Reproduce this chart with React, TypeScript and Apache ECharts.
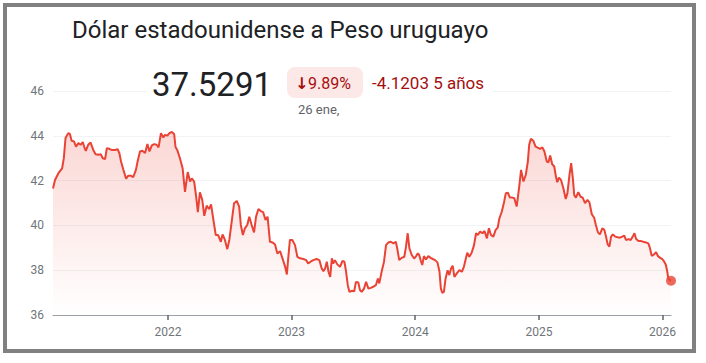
import React, { useEffect, useRef } from "react";
import * as echarts from "echarts";

const title = "Dólar estadounidense a Peso uruguayo";
const currentValue = "37.5291";
const changeArrow = "↓";
const changePct = "9.89%";
const changeAbs = "-4.1203 5 años";
const dateLabel = "26 ene,";

const yearTicks = ["2022-01-01", "2023-01-01", "2024-01-01", "2025-01-01", "2026-01-01"];

const dates = [
  "2021-01-26","2021-02-01","2021-02-11","2021-02-22","2021-02-27","2021-03-04","2021-03-12","2021-03-17","2021-03-22","2021-03-29",
  "2021-04-04","2021-04-11","2021-04-18","2021-04-24","2021-04-28","2021-05-03","2021-05-10","2021-05-17","2021-05-25","2021-06-01",
  "2021-06-09","2021-06-16","2021-06-22","2021-06-29","2021-07-04","2021-07-11","2021-07-18","2021-07-28","2021-08-05","2021-08-10",
  "2021-08-15","2021-08-22","2021-08-30","2021-09-05","2021-09-13","2021-09-20","2021-09-28","2021-10-03","2021-10-10","2021-10-17",
  "2021-10-25","2021-11-01","2021-11-07","2021-11-14","2021-11-21","2021-11-28","2021-12-04","2021-12-11","2021-12-18","2021-12-23",
  "2021-12-30","2022-01-05","2022-01-12","2022-01-19","2022-01-23","2022-01-28","2022-02-05","2022-02-13","2022-02-20","2022-02-28",
  "2022-03-07","2022-03-12","2022-03-19","2022-03-25","2022-03-30","2022-04-05","2022-04-12","2022-04-18","2022-04-25","2022-05-02",
  "2022-05-08","2022-05-15","2022-05-22","2022-05-29","2022-06-06","2022-06-11","2022-06-18","2022-06-25","2022-07-01","2022-07-08",
  "2022-07-15","2022-07-23","2022-07-30","2022-08-04","2022-08-10","2022-08-16","2022-08-23","2022-08-29","2022-09-05","2022-09-12",
  "2022-09-18","2022-09-25","2022-10-02","2022-10-09","2022-10-16","2022-10-22","2022-10-29","2022-11-06","2022-11-13","2022-11-20",
  "2022-11-28","2022-12-05","2022-12-13","2022-12-18","2022-12-22","2022-12-27","2023-01-03","2023-01-11","2023-01-18","2023-01-26",
  "2023-02-05","2023-02-13","2023-02-19","2023-02-26","2023-03-06","2023-03-16","2023-03-24","2023-03-31","2023-04-05","2023-04-10",
  "2023-04-15","2023-04-20","2023-04-25","2023-04-30","2023-05-04","2023-05-09","2023-05-16","2023-05-24","2023-05-31","2023-06-06",
  "2023-06-11","2023-06-16","2023-06-21","2023-06-28","2023-07-05","2023-07-10","2023-07-17","2023-07-22","2023-07-27","2023-08-03",
  "2023-08-09","2023-08-16","2023-08-23","2023-08-30","2023-09-07","2023-09-13","2023-09-17","2023-09-24","2023-10-01","2023-10-07",
  "2023-10-14","2023-10-21","2023-10-29","2023-11-05","2023-11-09","2023-11-15","2023-11-22","2023-11-30","2023-12-05","2023-12-10",
  "2023-12-15","2023-12-22","2023-12-29","2024-01-04","2024-01-09","2024-01-13","2024-01-18","2024-01-22","2024-01-27","2024-02-02",
  "2024-02-09","2024-02-16","2024-02-22","2024-02-29","2024-03-07","2024-03-13","2024-03-17","2024-03-21","2024-03-26","2024-03-31",
  "2024-04-06","2024-04-11","2024-04-16","2024-04-21","2024-04-26","2024-05-03","2024-05-11","2024-05-18","2024-05-24","2024-05-30",
  "2024-06-03","2024-06-09","2024-06-16","2024-06-23","2024-06-29","2024-07-04","2024-07-11","2024-07-18","2024-07-24","2024-07-31",
  "2024-08-06","2024-08-12","2024-08-19","2024-08-26","2024-09-01","2024-09-06","2024-09-13","2024-09-20","2024-09-25","2024-10-01",
  "2024-10-07","2024-10-14","2024-10-20","2024-10-27","2024-11-03","2024-11-09","2024-11-16","2024-11-23","2024-11-29","2024-12-03",
  "2024-12-08","2024-12-15","2024-12-22","2024-12-31","2025-01-04","2025-01-11","2025-01-17","2025-01-24","2025-01-29","2025-02-03",
  "2025-02-09","2025-02-15","2025-02-20","2025-02-24","2025-03-01","2025-03-07","2025-03-14","2025-03-21","2025-03-26","2025-04-01",
  "2025-04-06","2025-04-11","2025-04-15","2025-04-20","2025-04-27","2025-05-04","2025-05-10","2025-05-17","2025-05-24","2025-05-30",
  "2025-06-06","2025-06-13","2025-06-18","2025-06-24","2025-06-30","2025-07-07","2025-07-13","2025-07-18","2025-07-23","2025-07-28",
  "2025-08-02","2025-08-07","2025-08-14","2025-08-22","2025-08-28","2025-09-04","2025-09-10","2025-09-15","2025-09-22","2025-09-29",
  "2025-10-05","2025-10-10","2025-10-15","2025-10-22","2025-10-30","2025-11-05","2025-11-13","2025-11-20","2025-11-25","2025-11-30",
  "2025-12-07","2025-12-13","2025-12-18","2025-12-25","2025-12-31","2026-01-06","2026-01-11","2026-01-15","2026-01-18","2026-01-23",
  "2026-01-26"
];

const values = [
  41.65,42.03,42.33,42.55,43.0,43.9,44.12,44.08,43.78,43.75,
  43.52,43.67,43.6,43.72,43.52,43.33,43.6,43.7,43.37,43.18,
  43.15,43.18,43.0,42.96,43.45,43.42,43.37,43.37,43.4,43.23,
  42.85,42.48,42.08,42.22,42.22,42.15,42.48,42.85,43.3,43.33,
  43.23,43.63,43.3,43.57,43.63,43.6,43.48,44.12,43.92,44.04,
  44.01,44.12,44.17,44.08,43.5,43.37,43.0,42.55,41.5,42.38,
  41.96,42.1,41.96,41.28,40.59,41.48,41.14,40.43,40.88,40.73,
  40.94,40.24,39.57,39.57,39.27,39.6,39.35,38.94,39.35,40.17,
  40.99,41.09,40.84,40.02,39.57,39.87,40.02,40.39,40.02,39.69,
  40.39,40.73,40.64,40.59,40.24,40.39,39.27,39.24,39.15,38.75,
  38.85,38.53,38.15,37.81,38.53,39.35,39.35,39.12,38.6,38.53,
  38.5,38.45,38.3,38.38,38.45,38.5,38.45,38.08,37.96,38.08,
  38.38,37.93,37.7,38.53,38.3,38.45,38.26,38.15,38.41,38.38,
  37.93,37.33,37.03,37.08,37.06,37.48,37.45,37.11,37.03,37.18,
  37.48,37.18,37.21,37.26,37.33,37.63,37.41,37.93,38.38,39.12,
  39.24,39.27,39.2,39.27,38.98,38.45,38.55,38.6,39.05,39.65,
  38.98,38.68,38.52,38.63,38.75,38.68,38.41,38.23,38.63,38.48,
  38.63,38.55,38.5,38.45,38.35,37.93,37.19,36.99,37.03,37.63,
  38.0,37.78,38.08,38.2,37.7,37.86,38.0,37.93,38.15,38.53,
  38.78,38.6,38.78,39.12,39.65,39.57,39.72,39.65,39.75,39.42,
  39.87,39.57,39.5,39.8,39.9,40.32,40.61,41.06,41.44,41.46,
  41.24,41.24,41.21,40.84,41.66,42.48,41.96,42.26,42.85,43.6,
  43.87,43.78,43.52,43.45,43.42,43.48,43.3,42.85,42.82,43.12,
  42.73,42.63,42.18,41.93,42.13,42.03,41.66,41.18,41.44,42.26,
  42.78,42.1,41.36,41.24,41.48,41.28,41.24,40.99,41.14,41.03,
  40.5,40.34,40.02,39.69,39.6,39.87,39.8,39.5,39.15,39.05,
  39.5,39.6,39.5,39.47,39.45,39.5,39.54,39.35,39.39,39.35,
  39.5,39.65,39.39,39.3,39.3,39.27,39.24,39.2,38.98,38.64,
  38.71,38.8,38.64,38.55,38.5,38.38,38.23,37.93,37.63,37.55,
  37.5291
];

const RED = "#ea4335";
const DARK_RED = "#a50e0e";

const toTime = (s: string) => Date.parse(s + "T00:00:00Z");

export default function App() {
  const ref = useRef<HTMLDivElement>(null);

  useEffect(() => {
    if (!ref.current) return;
    const chart = echarts.init(ref.current, null, { renderer: "svg" });
    const seriesData = dates.map((d, i) => [toTime(d), values[i]]);
    const last = seriesData[seriesData.length - 1];
    const tickTimes = yearTicks.map(toTime);

    chart.setOption({
      animation: false,
      backgroundColor: "transparent",
      grid: { left: 53, right: 35, top: 91, bottom: 48, containLabel: false },
      xAxis: {
        type: "value",
        min: toTime(dates[0]),
        max: toTime(dates[dates.length - 1]),
        axisLine: { show: true, lineStyle: { color: "#9aa0a6", width: 1 } },
        axisTick: {
          show: true,
          customValues: tickTimes,
          length: 5,
          lineStyle: { color: "#5f6368", width: 1.5 },
        },
        axisLabel: {
          customValues: tickTimes,
          formatter: (v: number) => String(new Date(v).getUTCFullYear()),
          color: "#70757a",
          fontSize: 12,
          fontFamily: "Roboto",
          margin: 11,
        },
        splitLine: { show: false },
      },
      yAxis: {
        type: "value",
        min: 36,
        max: 46,
        interval: 2,
        axisLine: { show: false },
        axisTick: { show: false },
        axisLabel: { color: "#70757a", fontSize: 12, fontFamily: "Roboto", margin: 9 },
        splitLine: { lineStyle: { color: "#f1f3f4", width: 1 } },
      },
      series: [
        {
          type: "line",
          data: seriesData,
          showSymbol: false,
          symbol: "none",
          lineStyle: { color: RED, width: 2 },
          areaStyle: {
            color: new echarts.graphic.LinearGradient(0, 0, 0, 1, [
              { offset: 0, color: "rgba(234,67,53,0.30)" },
              { offset: 1, color: "rgba(234,67,53,0.0)" },
            ]),
          },
          z: 3,
        },
        {
          type: "scatter",
          data: [last],
          symbolSize: 10,
          itemStyle: { color: RED },
          z: 4,
        },
      ],
      graphic: [
        {
          type: "rect",
          z: 100,
          shape: { x: 147, y: 62, width: 345, height: 40 },
          style: { fill: "#ffffff" },
        },
        {
          type: "text",
          z: 101,
          x: 72,
          y: 30,
          style: { text: title, fill: "#202124", font: "24px Roboto", verticalAlign: "middle" },
        },
        {
          type: "text",
          z: 101,
          x: 152,
          y: 84,
          style: { text: currentValue, fill: "#202124", font: "33px Roboto", verticalAlign: "middle" },
        },
        {
          type: "rect",
          z: 101,
          shape: { x: 287, y: 67, width: 76, height: 31, r: 8 },
          style: { fill: "#fce8e6" },
        },
        {
          type: "text",
          z: 102,
          x: 295,
          y: 83,
          style: { text: changeArrow, fill: DARK_RED, font: "bold 16px 'DejaVu Sans'", verticalAlign: "middle" },
        },
        {
          type: "text",
          z: 102,
          x: 308,
          y: 83,
          style: { text: changePct, fill: DARK_RED, font: "16px Roboto", verticalAlign: "middle" },
        },
        {
          type: "text",
          z: 101,
          x: 372,
          y: 83,
          style: { text: changeAbs, fill: DARK_RED, font: "17px Roboto", verticalAlign: "middle" },
        },
        {
          type: "text",
          z: 101,
          x: 298,
          y: 109,
          style: { text: dateLabel, fill: "#5f6368", font: "13px Roboto", verticalAlign: "middle" },
        },
      ],
    });
    return () => chart.dispose();
  }, []);

  return (
    <div style={{ position: "fixed", left: 0, top: 0, width: 706, height: 363, background: "#ffffff" }}>
      <div
        style={{
          position: "absolute",
          left: 3,
          top: 3,
          width: 685,
          height: 342,
          border: "4px solid #808080",
        }}
      />
      <div ref={ref} style={{ position: "absolute", left: 0, top: 0, width: 706, height: 363 }} />
    </div>
  );
}
